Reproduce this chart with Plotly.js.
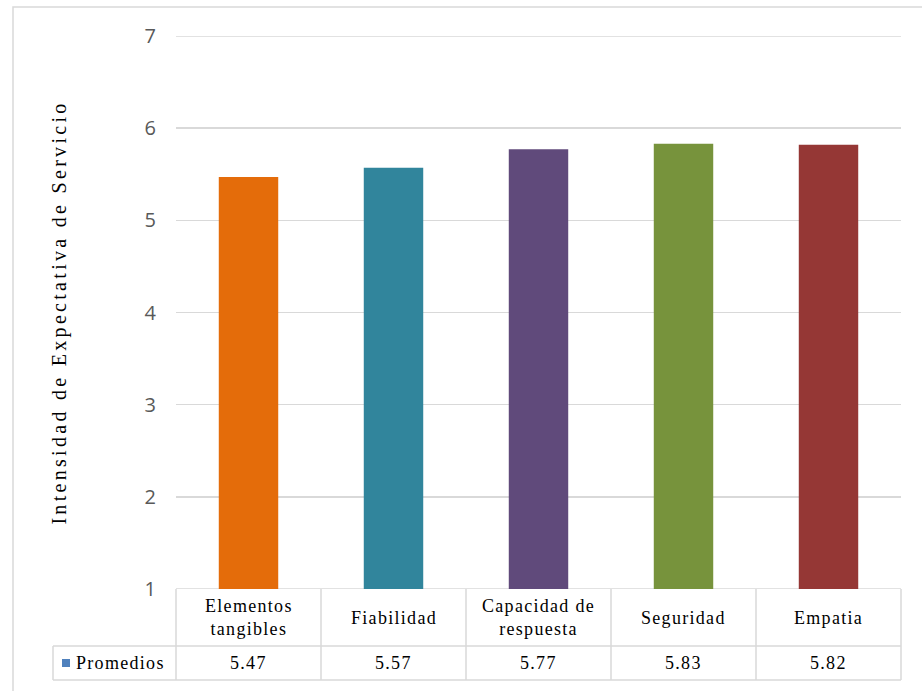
<!DOCTYPE html>
<html>
<head>
<meta charset="utf-8">
<script src="https://cdn.plot.ly/plotly-3.0.1.min.js"></script>
<style>
  html, body { margin: 0; padding: 0; background: #ffffff; }
  #chart { width: 922px; height: 691px; }
  .ytitle { letter-spacing: 3.3px; }
  .annotation-text { letter-spacing: 1.3px; }
</style>
</head>
<body>
<div id="chart"></div>
<script>
// ---- Data ----
const categories = ["Elementos<br>tangibles", "Fiabilidad", "Capacidad de<br>respuesta", "Seguridad", "Empatia"];
const promedios = [5.47, 5.57, 5.77, 5.83, 5.82];
const valueLabels = ["5.47", "5.57", "5.77", "5.83", "5.82"];
const barColors = ["#E46C0A", "#31859C", "#604A7B", "#77933C", "#953735"];
const seriesName = "Promedios";
const yTicks = [1, 2, 3, 4, 5, 6, 7];

// ---- Layout geometry (pixels) ----
const W = 922, H = 691;
const mL = 176, mR = 21, mT = 36, mB = 102;
const pw = W - mL - mR, ph = H - mT - mB;
const px2x = p => (p - mL) / pw;
const px2y = p => (H - mB - p) / ph;

const n = categories.length;
const gridColor = "#D9D9D9";
const serif = "'Liberation Serif', 'Times New Roman', serif";

const shapes = [];
const annotations = [];

// gridlines at the range ends (drawn explicitly so they are not dropped)
[yTicks[0], yTicks[yTicks.length - 1]].forEach(v => {
  shapes.push({type: "line", xref: "paper", yref: "y", x0: 0, x1: 1, y0: v, y1: v, line: {color: gridColor, width: 1.5}, layer: "below"});
});

// table rows (pixel y)
const row0 = H - mB, row1 = 646, row2 = 680;
const legendLeft = 53;

// horizontal table lines
shapes.push({type: "line", xref: "paper", yref: "paper", x0: px2x(legendLeft), x1: 1, y0: px2y(row1), y1: px2y(row1), line: {color: gridColor, width: 1.5}});
shapes.push({type: "line", xref: "paper", yref: "paper", x0: px2x(legendLeft), x1: 1, y0: px2y(row2), y1: px2y(row2), line: {color: gridColor, width: 1.5}});
// vertical table lines
for (let i = 0; i <= n; i++) {
  const xp = i / n;
  shapes.push({type: "line", xref: "paper", yref: "paper", x0: xp, x1: xp, y0: 0, y1: px2y(row2), line: {color: gridColor, width: 1.5}});
}
shapes.push({type: "line", xref: "paper", yref: "paper", x0: px2x(legendLeft), x1: px2x(legendLeft), y0: px2y(row1), y1: px2y(row2), line: {color: gridColor, width: 1.5}});

// outer chart border
shapes.push({type: "rect", xref: "paper", yref: "paper", x0: px2x(13), x1: px2x(930), y0: px2y(7), y1: px2y(700), line: {color: gridColor, width: 1.5}, fillcolor: "rgba(0,0,0,0)"});

// legend key square
shapes.push({type: "rect", xref: "paper", yref: "paper", x0: px2x(62), x1: px2x(70), y0: px2y(659), y1: px2y(667), line: {width: 0}, fillcolor: "#4F81BD"});

// table text
const tableFont = {family: serif, size: 18, color: "#000000"};
for (let i = 0; i < n; i++) {
  const xp = (i + 0.5) / n;
  annotations.push({xref: "paper", yref: "paper", x: xp, y: px2y((row0 + row1) / 2), text: categories[i], showarrow: false, xanchor: "center", yanchor: "middle", font: tableFont});
  annotations.push({xref: "paper", yref: "paper", x: xp, y: px2y((row1 + row2) / 2), text: valueLabels[i], showarrow: false, xanchor: "center", yanchor: "middle", font: tableFont});
}
annotations.push({xref: "paper", yref: "paper", x: px2x(74), y: px2y((row1 + row2) / 2), text: seriesName, showarrow: false, xanchor: "left", yanchor: "middle", font: tableFont});

const trace = {
  type: "bar",
  x: categories,
  y: promedios,
  name: seriesName,
  marker: {color: barColors},
  hoverinfo: "x+y"
};

const layout = {
  width: W, height: H,
  margin: {l: mL, r: mR, t: mT, b: mB, pad: 0},
  paper_bgcolor: "#ffffff",
  plot_bgcolor: "#ffffff",
  showlegend: false,
  bargap: 0.59,
  xaxis: {showticklabels: false, showgrid: false, zeroline: false, showline: false, ticks: "", fixedrange: true},
  yaxis: {
    range: [1, 7], tickvals: yTicks, ticktext: yTicks.map(String),
    showgrid: true, gridcolor: gridColor, gridwidth: 1.5, zeroline: false, showline: false, ticks: "",
    ticklabelstandoff: 19,
    tickfont: {family: "'Open Sans', 'Liberation Sans', sans-serif", size: 20, color: "#595959"},
    title: {text: "Intensidad de Expectativa de Servicio", standoff: 72, font: {family: serif, size: 20, color: "#000000"}},
    automargin: false
  },
  shapes: shapes,
  annotations: annotations
};

Plotly.newPlot("chart", [trace], layout, {displayModeBar: false, staticPlot: true});
</script>
</body>
</html>
